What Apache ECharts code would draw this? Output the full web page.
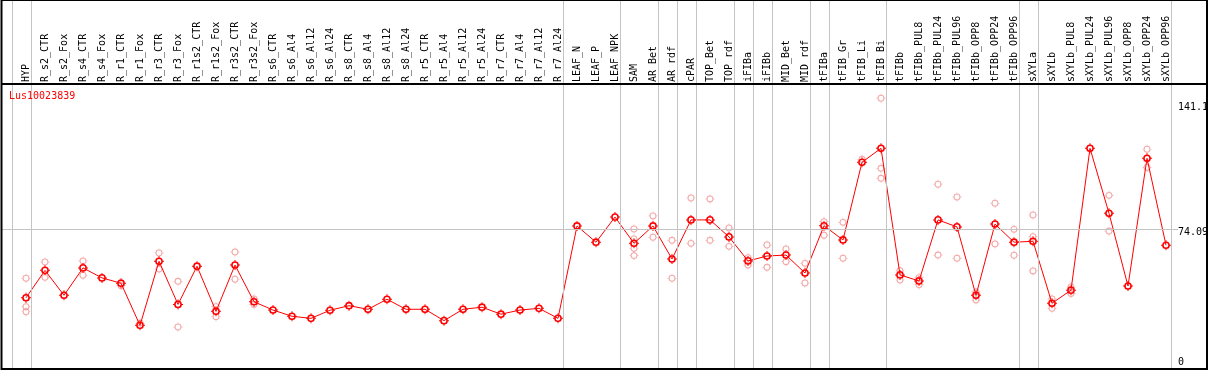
<!DOCTYPE html>
<html>
<head>
<meta charset="utf-8">
<script src="https://cdn.jsdelivr.net/npm/echarts@6/dist/echarts.min.js"></script>
<style>
html,body{margin:0;padding:0;background:#fff;}
#chart{width:1209px;height:370px;}
</style>
</head>
<body>
<div id="chart"></div>
<script>
const geneName = 'Lus10023839';

const categories = ['HYP','R_s2_CTR','R_s2_Fox','R_s4_CTR','R_s4_Fox','R_r1_CTR','R_r1_Fox','R_r3_CTR','R_r3_Fox',
  'R_r1s2_CTR','R_r1s2_Fox','R_r3s2_CTR','R_r3s2_Fox','R_s6_CTR','R_s6_Al4','R_s6_Al12','R_s6_Al24',
  'R_s8_CTR','R_s8_Al4','R_s8_Al12','R_s8_Al24','R_r5_CTR','R_r5_Al4','R_r5_Al12','R_r5_Al24',
  'R_r7_CTR','R_r7_Al4','R_r7_Al12','R_r7_Al24','LEAF_N','LEAF_P','LEAF_NPK','SAM','AR_Bet','AR_rdf',
  'cPAR','TOP_Bet','TOP_rdf','iFIBa','iFIBb','MID_Bet','MID_rdf','tFIBa','tFIB_Gr','tFIB_Li','tFIB_Bi',
  'tFIBb','tFIBb_PUL8','tFIBb_PUL24','tFIBb_PUL96','tFIBb_OPP8','tFIBb_OPP24','tFIBb_OPP96',
  'sXYLa','sXYLb','sXYLb_PUL8','sXYLb_PUL24','sXYLb_PUL96','sXYLb_OPP8','sXYLb_OPP24','sXYLb_OPP96'];

const means = [37.7, 52.2, 39.0, 53.5, 48.2, 45.4, 23.1, 57.0, 34.2, 54.4, 30.5, 55.0, 35.6,
  31.2, 27.9, 26.8, 31.1, 33.5, 31.6, 36.9, 31.6, 31.6, 25.6, 31.6, 32.7, 29.0, 31.2, 32.1, 26.8,
  75.7, 67.1, 80.4, 66.5, 75.7, 58.2, 78.9, 78.9, 69.9, 57.2, 59.8, 60.3, 50.8, 75.8, 68.3, 109.4, 116.8,
  49.8, 46.6, 78.9, 75.2, 39.0, 76.7, 67.1, 67.6, 34.8, 41.7, 116.8, 82.4, 43.9, 111.5, 65.5];

const replicates = [
  [48.0, 33.0, 30.3], [56.6, 48.5], [], [57.2, 49.6], [], [44.1], [24.3], [61.4, 52.9], [46.4, 22.2],
  [], [33.0, 27.7], [61.9, 47.5], [37.1, 34.2],
  [], [], [], [], [], [], [], [], [], [], [], [], [], [], [], [],
  [], [], [], [74.1, 68.8, 63.9, 60.0], [81.0, 69.7], [68.1, 48.0], [90.5, 66.5], [90.0, 68.1],
  [74.6, 64.9], [58.9, 55.0], [65.6, 53.8], [63.5, 56.8], [55.9, 45.5], [78.0, 70.8], [77.6, 58.6],
  [111.0], [143.3, 106.2, 100.9],
  [52.0, 47.1], [48.3, 44.6], [97.8, 60.3], [91.0, 58.6], [40.8, 36.5], [87.7, 66.2], [73.9, 60.2],
  [81.5, 70.0, 51.9], [37.1, 32.1], [43.4, 39.9], [], [91.9, 73.0], [], [116.3, 106.7], []
];

// group separators (between categories)
const separators = [-0.75, 0.25, 28.25, 31.25, 33.25, 34.25, 35.25, 37.25, 38.25, 39.25,
  41.25, 42.25, 45.25, 52.25, 53.25, 60.25];
const refValue = 74.09;
const yTicks = [0, 74.09, 141.1];

const FONT = 'DejaVu Sans Mono';
const XMIN = -24 / 19, XMAX = XMIN + 1176 / 19;
const YMAX = 369 / 1.8896;

const ringMain = 'path://M17.7 10A7.7 7.7 0 1 1 2.3 10A7.7 7.7 0 1 1 17.7 10Z' +
  'M14.6 10A4.6 4.6 0 1 0 5.4 10A4.6 4.6 0 1 0 14.6 10Z' +
  'M9 0H11V2.4H9Z M9 17.6H11V20H9Z M0 9H2.4V11H0Z M17.6 9H20V11H17.6Z';
const ringRep = 'path://M17.7 10A7.7 7.7 0 1 1 2.3 10A7.7 7.7 0 1 1 17.7 10Z' +
  'M15.4 10A5.4 5.4 0 1 0 4.6 10A5.4 5.4 0 1 0 15.4 10Z' +
  'M9.2 0H10.8V2.4H9.2Z M9.2 17.6H10.8V20H9.2Z M0 9.2H2.4V10.8H0Z M17.6 9.2H20V10.8H17.6Z';

const lineData = means.map((v, i) => [i, v]);
const repData = [];
replicates.forEach((arr, i) => arr.forEach(v => repData.push([i, v])));

const sepLines = separators.map(v => [{coord: [v, 0]}, {coord: [v, YMAX]}]);
const refLine = [[{coord: [XMIN, refValue]}, {coord: [XMAX, refValue]}]];

const chart = echarts.init(document.getElementById('chart'), null, {renderer: 'canvas'});
chart.setOption({
  animation: false,
  backgroundColor: '#ffffff',
  title: {
    text: geneName, left: 9, top: 91, padding: 0,
    textStyle: {color: '#ff0000', fontSize: 10, fontWeight: 'normal', fontFamily: FONT}
  },
  grid: {left: 2, top: 0, width: 1176, height: 369, containLabel: false, outerBoundsMode: 'none'},
  xAxis: {
    type: 'value', min: XMIN, max: XMAX, position: 'top', offset: -84,
    axisLine: {show: false}, axisTick: {show: false}, splitLine: {show: false},
    axisLabel: {
      customValues: categories.map((_, i) => i),
      formatter: v => categories[Math.round(v)] || '',
      rotate: 90, margin: 2, fontSize: 10, fontFamily: FONT, color: '#000',
      showMinLabel: true, showMaxLabel: true, hideOverlap: false
    }
  },
  yAxis: {
    type: 'value', position: 'right', min: 0, max: YMAX,
    axisLine: {show: false}, axisTick: {show: false}, splitLine: {show: false},
    axisLabel: {
      customValues: yTicks, margin: 0, align: 'left',
      formatter: v => (v === 0 ? '{z|0}' : (v > 100 ? '{h|' + v + '}' : '{a|' + v + '}')),
      rich: {
        h: {padding: [10, 0, 0, 0], fontSize: 10, fontFamily: FONT, color: '#000'},
        a: {padding: [7, 0, 0, 0], fontSize: 10, fontFamily: FONT, color: '#000'},
        z: {padding: [0, 0, 14, 0], fontSize: 10, fontFamily: FONT, color: '#000'}
      }
    }
  },
  series: [
    {
      type: 'line', data: [], z: 1, silent: true,
      markLine: {
        silent: true, symbol: 'none', animation: false,
        label: {show: false},
        lineStyle: {color: '#c4c4c4', width: 1, type: 'solid'},
        data: sepLines.concat(refLine)
      }
    },
    {
      type: 'scatter', data: repData, z: 2, silent: true,
      symbol: ringRep, symbolSize: 9,
      itemStyle: {color: 'rgba(238,130,130,0.85)'}
    },
    {
      type: 'line', data: lineData, z: 3, silent: true,
      symbol: ringMain, symbolSize: 10, showAllSymbol: true,
      lineStyle: {color: '#ff0000', width: 1},
      itemStyle: {color: '#ff0000'}
    }
  ],
  graphic: [
    {type: 'rect', z: 100, silent: true,
      shape: {x: 1.5, y: 0, width: 1205.5, height: 369},
      style: {fill: null, stroke: '#000', lineWidth: 2}},
    {type: 'line', z: 100, silent: true,
      shape: {x1: 1.5, y1: 84, x2: 1207, y2: 84},
      style: {stroke: '#000', lineWidth: 2}}
  ]
});
</script>
</body>
</html>
